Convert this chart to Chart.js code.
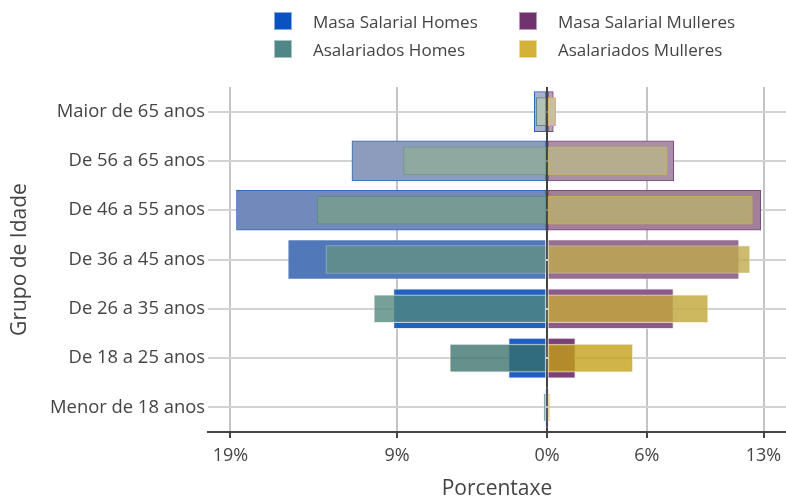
<!DOCTYPE html>
<html>
<head>
<meta charset="utf-8">
<script src="https://cdn.jsdelivr.net/npm/chart.js@4"></script>
<style>
  body { margin: 0; background: #fff; font-family: "Open Sans", sans-serif; }
  #wrap { position: relative; width: 786px; height: 502px; }
  #legend { position: absolute; left: 0; top: 0; width: 786px; height: 70px; }
  .item { position: absolute; height: 18px; display: flex; align-items: center; font-size: 17px; color: #444; white-space: nowrap; }
  .box { width: 18px; height: 18px; margin-right: 21px; box-sizing: border-box; border: 1px solid rgba(255,255,255,0.5); flex: none; }
</style>
</head>
<body>
<div id="wrap">
  <canvas id="chart" width="786" height="502"></canvas>
  <div id="legend"></div>
</div>
<script>
// Age groups, top to bottom
const ageGroups = ["Maior de 65 anos", "De 56 a 65 anos", "De 46 a 55 anos", "De 36 a 45 anos",
                   "De 26 a 35 anos", "De 18 a 25 anos", "Menor de 18 anos"];

// Percentages (men drawn to the left as negatives)
const masaHomes     = [-0.76, -11.71, -18.64, -15.56, -9.21, -2.30, -0.05];
const asalHomes     = [-0.64,  -8.61, -13.80, -13.27, -10.39, -5.83, -0.20];
const masaMulleres  = [ 0.38,   7.61,  12.83,  11.53,  7.59,  1.70,  0.05];
const asalMulleres  = [ 0.52,   7.21,  12.33,  12.19,  9.67,  5.15,  0.18];

const tickValues = [-19, -9, 0, 6, 13];

// Per-bar colours (opacity fades towards the upper groups)
const masaHomesFill   = ["#aab0c8", "#8d9cbc", "#7189bb", "#5179b9", "#2062c2", "#1f5fc5", "#1f5fc5"];
const masaHomesLine   = ["#2a62c0", "#3068c4", "#3068c4", "rgba(255,255,255,0.3)", "rgba(230,230,240,0.8)", "rgba(230,230,240,0.8)", "rgba(230,230,240,0.8)"];
const asalHomesFill   = ["#b3c1b6", "#8fa9a0", "#779a95", "#5f8c8f", "rgba(82,135,125,0.79)", "rgba(54,111,104,0.77)", "rgba(79,133,133,0.95)"];
const asalHomesLine   = ["#5a8a88", "#6a948e", "#5f8a86", "rgba(220,230,230,0.5)", "rgba(230,235,235,0.8)", "rgba(230,235,235,0.8)", "rgba(230,235,235,0.8)"];
const masaMulFill     = ["#b3a3ba", "#a98fa6", "#a07f98", "#946f8f", "#8a5a8a", "#7b4079", "#7b4079"];
const masaMulLine     = ["#7a3f7f", "#7d4a80", "#7d4a80", "rgba(240,230,240,0.5)", "rgba(235,225,235,0.8)", "rgba(235,225,235,0.8)", "rgba(235,225,235,0.8)"];
const asalMulFill     = ["#c8c0a4", "#b6ad8e", "#b5a677", "rgba(191,170,76,0.8)", "rgba(194,168,60,0.82)", "rgba(195,160,21,0.79)", "rgba(212,176,48,0.95)"];
const asalMulLine     = ["#d4b84a", "#c8b060", "#c8ac50", "rgba(240,235,210,0.5)", "rgba(240,235,210,0.8)", "rgba(240,235,210,0.8)", "rgba(240,235,210,0.8)"];

const legendItems = [
  { label: "Masa Salarial Homes",    color: "#0a52c2", left: 274, top: 12 },
  { label: "Masa Salarial Mulleres", color: "#70336f", left: 519, top: 12 },
  { label: "Asalariados Homes",      color: "#4f8787", left: 274, top: 40 },
  { label: "Asalariados Mulleres",   color: "#d4b23a", left: 519, top: 40 }
];

const FONT = "'Open Sans', sans-serif";

function bars(label, data, fill, line, thickness, order) {
  return {
    label, data,
    backgroundColor: fill,
    borderColor: line,
    borderWidth: 1,
    borderSkipped: false,
    barThickness: thickness,
    grouped: false,
    order
  };
}

// Zero line shows faintly through the paler upper bars
const zeroLine = {
  id: "zeroLine",
  afterDatasetsDraw(chart) {
    const { ctx, chartArea, scales } = chart;
    const x = scales.x.getPixelForValue(0);
    const yEnd = scales.y.getPixelForValue(2.5);
    ctx.save();
    ctx.strokeStyle = "rgba(68,68,68,0.55)";
    ctx.lineWidth = 2;
    ctx.beginPath();
    ctx.moveTo(x, chartArea.top);
    ctx.lineTo(x, yEnd);
    ctx.stroke();
    ctx.restore();
  }
};

new Chart(document.getElementById("chart"), {
  type: "bar",
  data: {
    labels: ageGroups,
    datasets: [
      bars("Masa Salarial Homes", masaHomes, masaHomesFill, masaHomesLine, 40, 1),
      bars("Masa Salarial Mulleres", masaMulleres, masaMulFill, masaMulLine, 40, 1),
      bars("Asalariados Homes", asalHomes, asalHomesFill, asalHomesLine, 28, 0),
      bars("Asalariados Mulleres", asalMulleres, asalMulFill, asalMulLine, 28, 0)
    ]
  },
  options: {
    indexAxis: "y",
    responsive: false,
    animation: false,
    layout: { padding: { top: 87, right: 0, left: 0, bottom: 0 } },
    plugins: { legend: { display: false }, tooltip: { enabled: false } },
    scales: {
      x: {
        min: -20.35,
        max: 14.35,
        afterBuildTicks: s => { s.ticks = tickValues.map(v => ({ value: v })); },
        afterFit: s => { s.height = 70; s.paddingLeft = 0; s.paddingRight = 0; },
        ticks: {
          callback: v => Math.abs(v) + "%",
          color: "#444",
          font: { family: FONT, size: 18 },
          padding: 7,
          autoSkip: false,
          maxRotation: 0
        },
        grid: {
          color: c => (c.tick && c.tick.value === 0 ? "#444" : "#c4c4c4"),
          lineWidth: 2,
          tickColor: "#444",
          tickLength: 6
        },
        border: { display: true, color: "#444", width: 2 },
        title: {
          display: true,
          text: "Porcentaxe",
          color: "#444",
          font: { family: FONT, size: 21 },
          padding: { top: 0, bottom: 0 }
        }
      },
      y: {
        afterFit: s => { s.width = 208; },
        ticks: {
          color: "#444",
          font: { family: FONT, size: 18.4 },
          padding: 3
        },
        grid: { color: "#d2d2d2", lineWidth: 2, drawTicks: false, offset: false },
        border: { display: false },
        title: {
          display: true,
          text: "Grupo de Idade",
          color: "#444",
          font: { family: FONT, size: 21 },
          padding: { top: 7, bottom: 0 }
        }
      }
    }
  },
  plugins: [zeroLine]
});

// Two-column legend
const legendEl = document.getElementById("legend");
legendItems.forEach(it => {
  const d = document.createElement("div");
  d.className = "item";
  d.style.left = it.left + "px";
  d.style.top = it.top + "px";
  d.innerHTML = `<span class="box" style="background:${it.color}"></span><span>${it.label}</span>`;
  legendEl.appendChild(d);
});
</script>
</body>
</html>
